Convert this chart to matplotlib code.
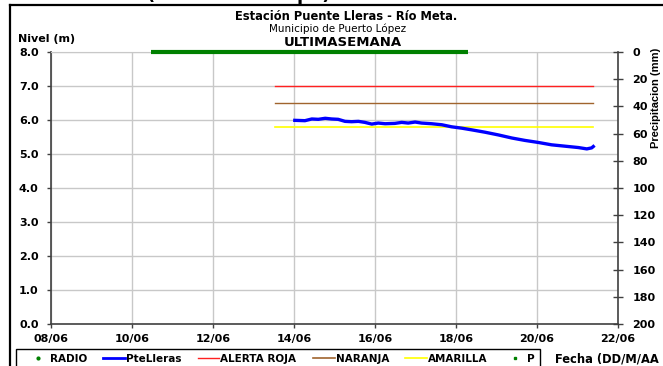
import matplotlib
matplotlib.use('Agg')
import matplotlib.pyplot as plt
from matplotlib.lines import Line2D
from matplotlib.patches import Rectangle

'''
    Grafico de nivel - Estacion Puente Lleras (Rio Meta)
    Ultima semana de registros, umbrales de alerta y precipitacion
'''

# Datos (dia de junio con fraccion, nivel en m)
dias_nivel = [14.02, 14.27, 14.44, 14.60, 14.77, 14.93, 15.09, 15.26, 15.42, 15.59,
              15.75, 15.92, 16.08, 16.25, 16.49, 16.66, 16.82, 16.99, 17.15, 17.40,
              17.65, 17.89, 18.14, 18.39, 18.72, 19.05, 19.38, 19.70, 20.03, 20.36,
              20.69, 21.02, 21.23, 21.35, 21.39]
nivel = [5.99, 5.98, 6.03, 6.02, 6.05, 6.03, 6.02, 5.96, 5.95, 5.96,
         5.93, 5.88, 5.91, 5.89, 5.90, 5.93, 5.91, 5.94, 5.91, 5.89,
         5.86, 5.80, 5.76, 5.71, 5.64, 5.56, 5.47, 5.40, 5.34, 5.27,
         5.23, 5.19, 5.15, 5.18, 5.22]

# Umbrales (se dibujan entre estos dos dias)
dias_umbral = [13.53, 21.38]
alerta_roja = [7.0, 7.0]
naranja = [6.5, 6.5]
amarilla = [5.8, 5.8]

# Precipitacion (mm), todo en cero durante el periodo con dato
dias_p = [10.47, 18.30]
precip = [0, 0]

# Ejes
dias_ticks = [8, 10, 12, 14, 16, 18, 20, 22]
fechas_ticks = ['08/06', '10/06', '12/06', '14/06', '16/06', '18/06', '20/06', '22/06']
nivel_ticks = [0, 1, 2, 3, 4, 5, 6, 7, 8]
precip_ticks = [0, 20, 40, 60, 80, 100, 120, 140, 160, 180, 200]

plt.rcParams['font.family'] = 'DejaVu Sans'
W, H = 663, 366
fig = plt.figure(figsize=(W / 100, H / 100), dpi=100)

# Marco exterior (solo lineas superior e izquierda son visibles)
fig.add_artist(Line2D([10 / W, 10 / W], [0, 1 - 5 / H], color='black', lw=1.6))
fig.add_artist(Line2D([10 / W, 1], [1 - 5 / H, 1 - 5 / H], color='black', lw=1.6))

ax = fig.add_axes([51 / W, 1 - 324 / H, (618 - 51) / W, (324 - 52) / H])
ax2 = ax.twinx()

gris = '#c8c8c8'
eje = '#404040'

ax.set_xlim(8, 22)
ax.set_ylim(0, 8)
ax.set_xticks(dias_ticks)
ax.set_xticklabels(fechas_ticks, fontweight='bold', fontsize=8)
ax.set_yticks(nivel_ticks)
ax.set_yticklabels(['%.1f' % v for v in nivel_ticks], fontweight='bold', fontsize=8)
ax.grid(True, color=gris, lw=1.0)
ax.set_axisbelow(True)
ax.tick_params(axis='x', direction='out', length=3, width=1, color=eje, pad=4)
ax.tick_params(axis='y', direction='out', length=3, width=1, color=eje, pad=6)
ax.spines['top'].set_color(gris)
ax.spines['right'].set_visible(False)
for s in ['left', 'bottom']:
    ax.spines[s].set_color(eje)
    ax.spines[s].set_linewidth(1.2)

# Umbrales y serie de nivel
ax.plot(dias_umbral, alerta_roja, color='#ff2020', lw=1.0, zorder=3)
ax.plot(dias_umbral, naranja, color='#a0642d', lw=1.0, zorder=3)
ax.plot(dias_umbral, amarilla, color='#ffff00', lw=1.2, zorder=3)
ax.plot(dias_nivel, nivel, color='#0000ff', lw=2.4, zorder=4)

# Eje de precipitacion invertido
ax2.set_ylim(200, 0)
ax2.set_yticks(precip_ticks)
ax2.set_yticklabels([str(v) for v in precip_ticks], fontweight='bold', fontsize=8)
ax2.tick_params(axis='y', direction='inout', length=7, width=1, color=eje, pad=7)
for s in ['top', 'left', 'bottom']:
    ax2.spines[s].set_visible(False)
ax2.spines['right'].set_color(eje)
ax2.spines['right'].set_linewidth(1.2)
ax2.plot(dias_p, precip, color='#008000', lw=3, solid_capstyle='butt', clip_on=False, zorder=5)

# Titulos
fig.text(346 / W, 1 - 17 / H, 'Estación Puente Lleras - Río Meta.', ha='center', va='center',
         fontsize=8.3, fontweight='bold')
fig.text(338 / W, 1 - 29 / H, 'Municipio de Puerto López', ha='center', va='center', fontsize=7.5)
fig.text(343 / W, 1 - 42 / H, 'ULTIMASEMANA', ha='center', va='center', fontsize=9.5, fontweight='bold')
fig.text(147 / W, 1.0, '(Datos en tiempo)', ha='left', va='baseline', fontsize=13, fontweight='bold')
fig.text(18 / W, 1 - 39 / H, 'Nivel (m)', ha='left', va='center', fontsize=8, fontweight='bold')
fig.text(656 / W, 1 - 98 / H, 'Precipitacion (mm)', ha='center', va='center', rotation=90,
         fontsize=8, fontweight='bold', family='Liberation Sans')
fig.text(555 / W, 1 - 359 / H, 'Fecha (DD/M/AA', ha='left', va='center', fontsize=8.3, fontweight='bold')

# Leyenda (marco dibujado aparte)
fig.add_artist(Rectangle((16 / W, -0.05), (540 - 16) / W, 0.05 + 1 - 349 / H, transform=fig.transFigure,
                         facecolor='white', edgecolor='black', lw=1.0))
handles = [
    Line2D([], [], color='#008000', marker='.', ls='none', ms=4),
    Line2D([], [], color='#0000ff', lw=2),
    Line2D([], [], color='#ff2020', lw=1),
    Line2D([], [], color='#a0642d', lw=1.2),
    Line2D([], [], color='#ffff00', lw=1.2),
    Line2D([], [], color='#008000', marker='s', ls='none', ms=2),
]
labels = ['RADIO', 'PteLleras', 'ALERTA ROJA', 'NARANJA', 'AMARILLA', 'P']
leg = fig.legend(handles, labels, loc='upper left', bbox_to_anchor=(22 / W, 1 - 349 / H),
                 ncol=6, prop={'weight': 'bold', 'size': 7.5}, frameon=False,
                 borderpad=0.45, handlelength=2.1, handletextpad=0.1,
                 columnspacing=1.55, borderaxespad=0)

plt.savefig('out.png', dpi=100)
